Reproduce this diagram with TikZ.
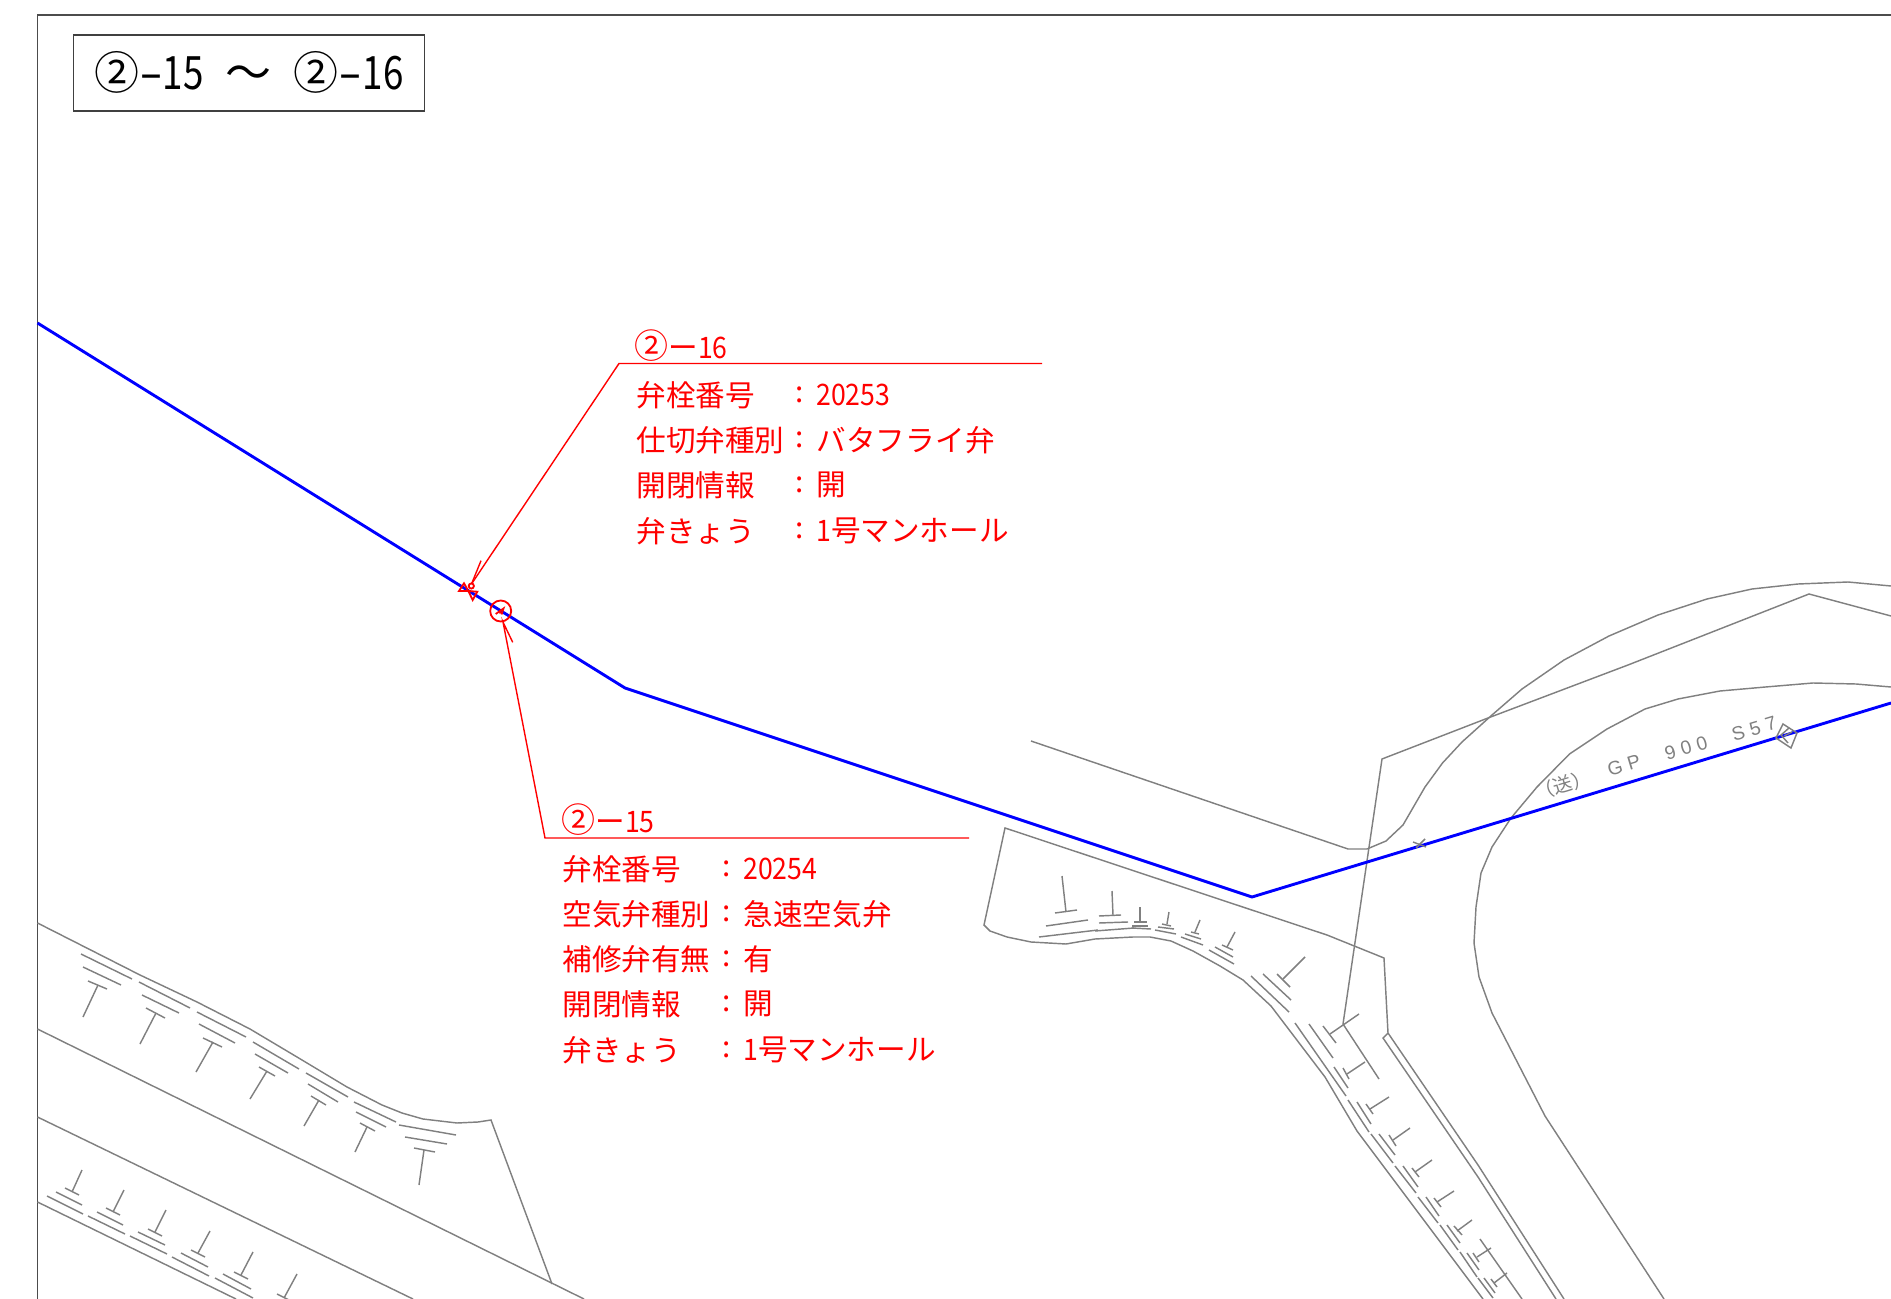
\documentclass[tikz,border=0pt]{standalone}
\usepackage{fontspec}
\setmainfont{Liberation Sans}
\newfontfamily\cjk{Noto Sans CJK JP}
\newfontfamily\cjkt[FakeStretch=0.8]{Noto Sans CJK JP}
\newfontfamily\cjkh[FakeStretch=1.5]{Noto Sans CJK JP}
\newfontfamily\cjkm[FakeStretch=0.9]{Noto Sans CJK JP}
\newfontfamily\gpfont[LetterSpace=30]{Liberation Sans}
\newcommand{\maru}{{\fontsize{17}{17}\selectfont ②}}
\tikzset{
 gl/.style={draw=black!50,line width=0.72pt},
 frameln/.style={draw=black!70,line width=0.9pt},
 bl/.style={draw=blue,line width=1.45pt,line join=round},
 rd/.style={draw=red,line width=0.7pt},
 rds/.style={draw=red,line width=0.9pt},
 lbl/.style={red,anchor=west,inner sep=0pt,font=\fontsize{14.8}{14.8}\selectfont\cjk},
 gptext/.style={black!50,rotate=16.8,inner sep=0pt,font=\fontsize{9.6}{9.6}\selectfont\gpfont}
}
\newcommand{\tk}[4]{\draw[gl] #1 -- #2; \draw[gl] #3; \draw[gl] #4;}
\begin{document}
\begin{tikzpicture}[x=0.5pt,y=-0.5pt]
\useasboundingbox (0,0) rectangle (1891,1299);
\begin{scope}
\clip (0,0) rectangle (1891,1299);
% frame
\draw[frameln] (1891,15) -- (37.5,15) -- (37.5,1299);
\node[draw=black!75,line width=0.8pt,minimum width=175.5pt,minimum height=38pt,inner sep=0pt,anchor=north west] (title) at (72.5,34)
 {\fontsize{23}{23}\selectfont{\fontsize{22.5}{22.5}\selectfont\cjk ②}{\cjkh -}{\cjkt 15}\hspace{11pt}{\cjk ～}\hspace{11pt}{\fontsize{22.5}{22.5}\selectfont\cjk ②}{\cjkh -}{\cjkt 16}};
% road lines
\draw[gl] (1031,741) -- (1348,849) -- (1367,849) -- (1386,841) -- (1403,825) -- (1425,787) -- (1442.5,763) -- (1462,742) -- (1492,715) -- (1522,689) -- (1564,660) -- (1609,636) -- (1658,615) -- (1707,599) -- (1752,589) -- (1798,584) -- (1848,582) -- (1891,586);
\draw[gl] (1343,1024) -- (1382,759) -- (1488,718) -- (1628,665) -- (1809,594) -- (1891,616);
\draw[gl] (1343,1024) -- (1379,1079);
\draw[gl] (1480,1239) -- (1522,1299);
\draw[gl] (1891,687) -- (1856,684) -- (1813,683) -- (1765.5,687) -- (1720,691) -- (1678,699) -- (1645,709) -- (1607,729) -- (1569.5,754) -- (1537,787) -- (1511,818) -- (1492,847) -- (1481,873) -- (1476,907) -- (1474,943) -- (1479,977) -- (1492,1013) -- (1545,1116) -- (1664,1299);
% polygon
\draw[gl] (1483,1299) -- (1357,1131) -- (1325,1077) -- (1271,1006) -- (1243,980) -- (1220,966) -- (1193,951) -- (1171,941) -- (1150,937) -- (1133,937) -- (1095,939) -- (1066,944) -- (1031,942) -- (1007,937) -- (990,931) -- (984,925) -- (1005,828) -- (1327,935) -- (1384,958) -- (1388,1033) -- (1478,1165) -- (1564,1299);
\draw[gl] (1388,1033) -- (1383,1038) -- (1478,1177) -- (1556,1299);
% ticks, curve A
\tk{(1062,876)}{(1066,912)}{(1055,913) -- (1077,910)}{(1046,926) -- (1088,920)}
\draw[gl] (1039,937) -- (1098,930);
\tk{(1112,891)}{(1113,915)}{(1099,916) -- (1121,915)}{(1099,923) -- (1128,922)}
\draw[gl] (1095,931) -- (1134,928);
\tk{(1140,907)}{(1140,921)}{(1134,922) -- (1147,922)}{(1132,926) -- (1148,926)}
\draw[gl] (1132,928) -- (1151,929);
\tk{(1169,912)}{(1167,924)}{(1162,924) -- (1171,926)}{(1158,927) -- (1174,929)}
\draw[gl] (1155,930) -- (1176,934);
\tk{(1200,920)}{(1195,932)}{(1191,932) -- (1199,934)}{(1185,934) -- (1201,939)}
\draw[gl] (1181,937) -- (1203,945);
\tk{(1235,932)}{(1227,947)}{(1222,945) -- (1233,950)}{(1215,947) -- (1233,957)}
\draw[gl] (1209,950) -- (1234,964);
\tk{(1305,957)}{(1283,979)}{(1277,974) -- (1290,987)}{(1263,974) -- (1291,1000)}
\draw[gl] (1251,976) -- (1289,1012);
\tk{(1359,1014)}{(1330,1034)}{(1323,1026) -- (1336,1043)}{(1309,1024) -- (1333,1058)}
\draw[gl] (1295,1023) -- (1346,1096);
\tk{(1365,1062)}{(1347,1074)}{(1343,1068) -- (1349,1079)}{(1334,1067) -- (1348,1088)}
\tk{(1389,1097)}{(1370,1109)}{(1366,1104) -- (1373,1114)}{(1357,1102) -- (1371,1124)}
\draw[gl] (1348,1100) -- (1369,1132);
\tk{(1410,1128)}{(1393,1140)}{(1389,1135) -- (1396,1146)}{(1379,1134) -- (1395,1155)}
\draw[gl] (1371,1134) -- (1393,1163);
\tk{(1432,1160)}{(1415,1172)}{(1412,1168) -- (1419,1177)}{(1403,1166) -- (1418,1187)}
\draw[gl] (1395,1166) -- (1416,1193);
\tk{(1454,1191)}{(1437,1202)}{(1434,1198) -- (1441,1207)}{(1426,1197) -- (1439,1216)}
\draw[gl] (1418,1197) -- (1438,1223);
\tk{(1472,1220)}{(1457,1231)}{(1454,1226) -- (1462,1235)}{(1447,1225) -- (1460,1243)}
\draw[gl] (1440,1225) -- (1458,1250);
\tk{(1491,1248)}{(1477,1257)}{(1473,1253) -- (1479,1262)}{(1467,1253) -- (1479,1270)}
\draw[gl] (1460,1252) -- (1477,1277);
\tk{(1507,1273)}{(1494,1283)}{(1491,1279) -- (1497,1287)}{(1484,1278) -- (1495,1293)}
\draw[gl] (1478,1278) -- (1493,1298);
% lower-left roads
\draw[gl] (37.5,923) -- (140,975) -- (197,1002) -- (250,1029) -- (297,1057) -- (347,1087) -- (382,1105) -- (402,1113) -- (423,1119) -- (457,1123) -- (478,1122) -- (491,1120) -- (552,1284);
\draw[gl] (37.5,1029) -- (584,1299);
\draw[gl] (37.5,1117) -- (413,1299);
\draw[gl] (37.5,1202) -- (236,1299);
% upper ticks
\tk{(98,985)}{(83,1017)}{(88,981) -- (107,989)}{(83,967) -- (121,985)}
\draw[gl] (81,954) -- (132,979);
\tk{(156,1013)}{(140,1044)}{(146,1008) -- (165,1018)}{(142,995) -- (179,1013)}
\draw[gl] (139,982) -- (190,1008);
\tk{(213,1042)}{(196,1072)}{(203,1038) -- (222,1047)}{(199,1024) -- (235,1043)}
\draw[gl] (197,1012) -- (246,1037);
\tk{(267,1071)}{(250,1099)}{(259,1067) -- (275,1076)}{(255,1054) -- (288,1073)}
\draw[gl] (253,1042) -- (299,1069);
\tk{(319,1100)}{(304,1126)}{(311,1096) -- (326,1105)}{(308,1084) -- (338,1102)}
\draw[gl] (306,1073) -- (348,1097);
\tk{(367,1127)}{(355,1152)}{(360,1123) -- (375,1131)}{(356,1112) -- (386,1127)}
\draw[gl] (354,1102) -- (396,1122);
\tk{(424,1150)}{(419,1185)}{(414,1148) -- (435,1152)}{(405,1137) -- (447,1144)}
\draw[gl] (399,1125) -- (456,1135);
% lower ticks
\tk{(82,1170)}{(72,1192)}{(65,1188) -- (79,1195)}{(56,1192) -- (82,1205)}
\draw[gl] (47,1196) -- (83,1214);
\tk{(124,1190)}{(113,1212)}{(106,1208) -- (120,1215)}{(97,1212) -- (123,1225)}
\draw[gl] (88,1216) -- (125,1234);
\tk{(166,1210)}{(155,1232)}{(148,1229) -- (162,1236)}{(138,1232) -- (165,1245)}
\draw[gl] (130,1236) -- (167,1254);
\tk{(210,1231)}{(198,1253)}{(191,1250) -- (205,1257)}{(181,1253) -- (208,1267)}
\draw[gl] (172,1257) -- (209,1276);
\tk{(253,1252)}{(241,1275)}{(234,1272) -- (248,1279)}{(223,1274) -- (251,1289)}
\draw[gl] (215,1278) -- (253,1298);
\draw[gl] (297,1274) -- (284,1298);
\draw[gl] (277,1294) -- (293,1302);
% main line
\draw[bl] (37.5,323) -- (625,688) -- (1252,897) -- (1891,703);
% small mark on pipe
\draw[gl] (1413,842) -- (1426,847);
\draw[gl] (1416,848) -- (1425,839);
% diamond valve
\draw[gl] (1783,724) -- (1797,733) -- (1791,748) -- (1776,738) -- cycle;
\draw[gl] (1789,728) -- (1781,735) -- (1788,743);
\draw[gl] (1784,736) -- (1792,732);
% GP text
\node[gptext] (t1) at (1563,785) {\cjk （送）};
\node[gptext] (t2) at (1624,765) {GP};
\node[gptext] (t3) at (1686,748) {900};
\node[gptext] (t4) at (1754,729) {S57};
% labels 2-16
\node[lbl] (h16) at (634,346) {\maru ー{\cjkm 16}};
\node[lbl] (a1) at (636,395) {弁栓番号};
\node[lbl] (a2) at (636,440) {仕切弁種別};
\node[lbl] (a3) at (636,485) {開閉情報};
\node[lbl] (a4) at (636,531) {弁きょう};
\foreach \y/\n in {395/b1,440/b2,485/b3,531/b4} \node[lbl,anchor=center] (\n) at (800,\y) {:};
\node[lbl] (c1) at (816,395) {\cjkm 20253};
\node[lbl] (c2) at (816,440) {\addfontfeature{LetterSpace=0.5}バタフライ弁};
\node[lbl] (c3) at (816,485) {開};
\node[lbl] (c4) at (816,531) {{\cjkm 1}号マンホール};
% labels 2-15
\node[lbl] (h15) at (561,820) {\maru ー{\cjkm 15}};
\node[lbl] (d1) at (562,869) {弁栓番号};
\node[lbl] (d2) at (562,914) {空気弁種別};
\node[lbl] (d3) at (562,959) {補修弁有無};
\node[lbl] (d4) at (562,1004) {開閉情報};
\node[lbl] (d5) at (562,1050) {弁きょう};
\foreach \y/\n in {869/e1,914/e2,959/e3,1004/e4,1050/e5} \node[lbl,anchor=center] (\n) at (727,\y) {:};
\node[lbl] (f1) at (743,869) {\cjkm 20254};
\node[lbl] (f2) at (743,914) {\addfontfeature{LetterSpace=0.5}急速空気弁};
\node[lbl] (f3) at (743,959) {有};
\node[lbl] (f4) at (743,1004) {開};
\node[lbl] (f5) at (743,1050) {{\cjkm 1}号マンホール};
% leaders
\coordinate (l16e) at (1042,363.5); \coordinate (l16k) at (619,363.5); \coordinate (l16t) at (471.5,584);
\draw[rd] (l16e) -- (l16k) -- (l16t);
\draw[rd] (l16t) -- (481,560.7);
\coordinate (l15e) at (969,838); \coordinate (l15k) at (545,838); \coordinate (l15t) at (503,622);
\draw[rd] (l15e) -- (l15k) -- (l15t) -- (512.7,642.3);
% butterfly valve symbol
\draw[rds] (459,591) -- (464,583.3) -- (468.3,591) -- cycle;
\draw[rds] (468.3,591) -- (477.3,591.7) -- (472.7,600) -- cycle;
\draw[rds] (471.3,586) circle (2.6);
% air valve symbol
\node[draw=red,circle,line width=0.9pt,minimum size=10.5pt,inner sep=0pt] (av) at (500.7,611) {};
\draw[rds] (495.7,614) -- (503.5,608.5) -- (501.5,614.5);
\draw[rds] (499.5,610.5) -- (500.5,613.5);
\end{scope}
\end{tikzpicture}
\end{document}
